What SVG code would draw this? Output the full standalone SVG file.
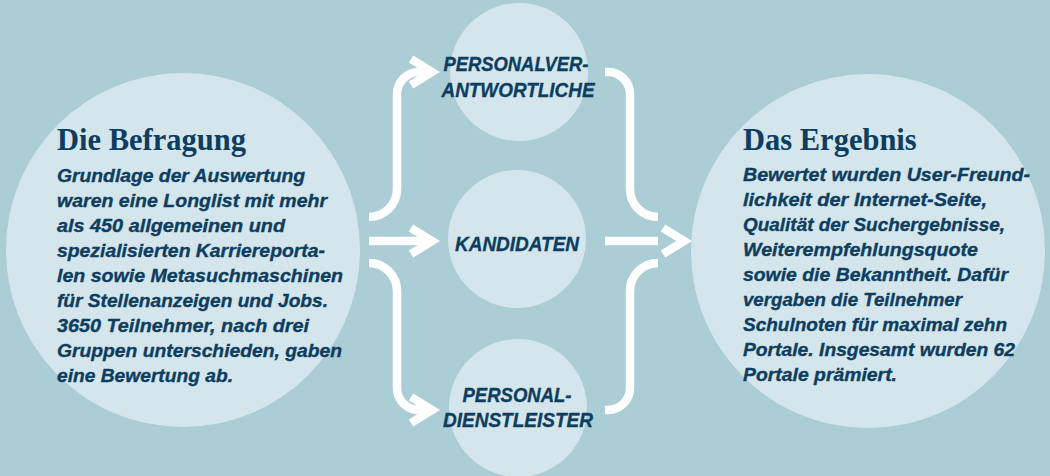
<svg xmlns="http://www.w3.org/2000/svg" width="1050" height="476" viewBox="0 0 1050 476">
<style>
.bg{fill:#abcdd6}
.c{fill:#d4e6eb}
.t{font-family:"Liberation Serif",serif;font-weight:bold;font-size:30.5px;fill:#0d3d60}
.b{font-family:"Liberation Sans",Arial,sans-serif;font-weight:bold;font-style:italic;font-size:18.5px;fill:#0d3d60;stroke:#0d3d60;stroke-width:0.35}
.l{font-family:"Liberation Sans",Arial,sans-serif;font-weight:bold;font-style:italic;font-size:21px;fill:#0d3d60;stroke:#0d3d60;stroke-width:0.35;text-anchor:middle}
.w{fill:none;stroke:#fff;stroke-width:8.5}
</style>
<rect class="bg" x="0" y="0" width="1050" height="476"/>
<g id="befragung">
<circle class="c" cx="183" cy="250" r="177"/>
<text class="t" x="57" y="150">Die Befragung</text>
<text class="b" x="57" y="182" textLength="248" lengthAdjust="spacingAndGlyphs">Grundlage der Auswertung</text>
<text class="b" x="57" y="207" textLength="270" lengthAdjust="spacingAndGlyphs">waren eine Longlist mit mehr</text>
<text class="b" x="57" y="232" textLength="228" lengthAdjust="spacingAndGlyphs">als 450 allgemeinen und</text>
<text class="b" x="57" y="257" textLength="268" lengthAdjust="spacingAndGlyphs">spezialisierten Karriereporta-</text>
<text class="b" x="57" y="282" textLength="286" lengthAdjust="spacingAndGlyphs">len sowie Metasuchmaschinen</text>
<text class="b" x="57" y="307" textLength="271" lengthAdjust="spacingAndGlyphs">für Stellenanzeigen und Jobs.</text>
<text class="b" x="57" y="332" textLength="252" lengthAdjust="spacingAndGlyphs">3650 Teilnehmer, nach drei</text>
<text class="b" x="57" y="357" textLength="285" lengthAdjust="spacingAndGlyphs">Gruppen unterschieden, gaben</text>
<text class="b" x="57" y="382" textLength="176" lengthAdjust="spacingAndGlyphs">eine Bewertung ab.</text>
</g>
<g id="personalverantwortliche">
<circle class="c" cx="519" cy="72" r="69"/>
<text class="l" x="516" y="71" textLength="145" lengthAdjust="spacingAndGlyphs">PERSONALVER-</text>
<text class="l" x="518" y="97" textLength="153" lengthAdjust="spacingAndGlyphs">ANTWORTLICHE</text>
</g>
<g id="kandidaten">
<circle class="c" cx="517" cy="239" r="69"/>
<text class="l" x="517" y="251" textLength="124" lengthAdjust="spacingAndGlyphs">KANDIDATEN</text>
</g>
<g id="personaldienstleister">
<circle class="c" cx="518" cy="408" r="69"/>
<text class="l" x="517" y="402" textLength="109" lengthAdjust="spacingAndGlyphs">PERSONAL-</text>
<text class="l" x="518" y="427" textLength="150" lengthAdjust="spacingAndGlyphs">DIENSTLEISTER</text>
</g>
<g id="ergebnis">
<circle class="c" cx="868" cy="251" r="177"/>
<text class="t" x="743" y="150">Das Ergebnis</text>
<text class="b" x="743" y="181" textLength="287" lengthAdjust="spacingAndGlyphs">Bewertet wurden User-Freund-</text>
<text class="b" x="743" y="206" textLength="244" lengthAdjust="spacingAndGlyphs">lichkeit der Internet-Seite,</text>
<text class="b" x="743" y="231" textLength="262" lengthAdjust="spacingAndGlyphs">Qualität der Suchergebnisse,</text>
<text class="b" x="743" y="256" textLength="235" lengthAdjust="spacingAndGlyphs">Weiterempfehlungsquote</text>
<text class="b" x="743" y="281" textLength="265" lengthAdjust="spacingAndGlyphs">sowie die Bekanntheit. Dafür</text>
<text class="b" x="743" y="306" textLength="219" lengthAdjust="spacingAndGlyphs">vergaben die Teilnehmer</text>
<text class="b" x="743" y="331" textLength="264" lengthAdjust="spacingAndGlyphs">Schulnoten für maximal zehn</text>
<text class="b" x="743" y="356" textLength="272" lengthAdjust="spacingAndGlyphs">Portale. Insgesamt wurden 62</text>
<text class="b" x="743" y="381" textLength="154" lengthAdjust="spacingAndGlyphs">Portale prämiert.</text>
</g>
<g id="connectors">
<path class="w" d="M369,217 A28,28 0 0 0 397,189 L397,94 A22,22 0 0 1 419,72 L432,72"/>
<path class="w" d="M411,59 L432,72 L411,85"/>
<path class="w" d="M369,241 L432,241"/>
<path class="w" d="M411,228 L432,241 L411,254"/>
<path class="w" d="M369,263 A28,28 0 0 1 397,291 L397,388 A22,22 0 0 0 419,410 L432,410"/>
<path class="w" d="M411,397 L432,410 L411,423"/>
<path class="w" d="M605,72 L608,72 A22,22 0 0 1 630,94 L630,189 A28,28 0 0 0 658,217"/>
<path class="w" d="M605,241 L658,241"/>
<path class="w" d="M605,410 L608,410 A22,22 0 0 0 630,388 L630,291 A28,28 0 0 1 658,263"/>
<path class="w" d="M663,228 L684,241 L663,254"/>
</g>
</svg>
